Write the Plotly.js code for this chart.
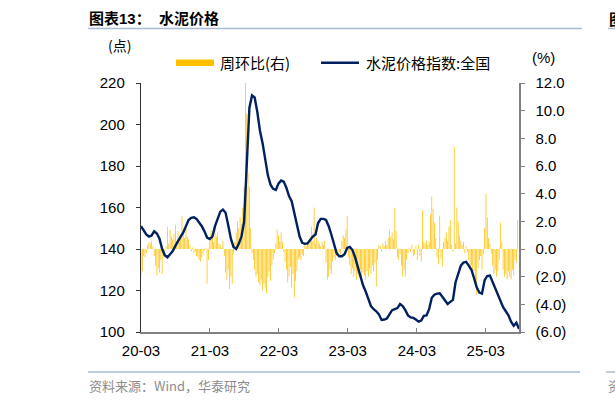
<!DOCTYPE html>
<html>
<head>
<meta charset="utf-8">
<script src="https://cdn.plot.ly/plotly-3.0.1.min.js"></script>
<style>
  body { margin: 0; background: #fff; }
  #cement_graph { width: 615px; height: 402px; }
</style>
</head>
<body>
<div id="cement_graph"></div>
<script>
// weekly data, first week starts 2020-03
const startDate = "2020-03-01";
const endDate = "2025-08-24";

// 周环比 (%), one value per week
const wowChange = [
  -2.0, -1.6, -0.5, -0.6, -0.3, 0.3, 0.5, 0.4, 0.6, 0.2,
  -0.5, -1.2, -1.9, -1.4, -1.7, -0.8, -1.8, -0.6, -0.3, 0.2,
  1.6, 0.4, 1.4, 0.9, 0.7, 1.1, 1.75, 0.6, 1.3, 0.5,
  0.9, 2.4, 1.5, 0.8, 1.6, 0.9, 0.7, 0.3, -0.2, 0.1,
  -0.3, -0.2, -0.5, -0.6, -0.8, -0.9, -0.6, -0.4, -0.1, 0.1,
  -2.5, -0.8, 0.6, 1.4, 1.1, 0.5, 1.6, 0.9, 1.2, 0.4,
  0.3, 0.1, 0.6, -0.5, -1.7, -2.2, -1.5, -2.9, -2.0, -2.5,
  -0.3, 0.5, 1.2, 2.0, 1.5, 2.3, 1.8, 3.0, 4.5, 12.0,
  9.8, 5.5, 4.5, 1.5, -0.3, -0.8, -1.5, -2.0, -1.8, -2.4,
  -2.6, -2.2, -3.0, -2.5, -2.8, -3.2, -2.0, -1.6, -2.3, -1.2,
  -0.8, -0.3, 0.4, 1.4, 1.0, 0.6, 1.2, 0.5, -0.2, -0.9,
  -1.5, -2.4, -2.0, -1.3, -2.8, -1.8, -3.5, -2.3, -1.6, -0.8,
  -0.6, -0.8, -0.4, -0.5, 0.3, 0.2, 0.5, 0.4, 0.9, 1.6,
  0.6, 3.0, 0.4, 0.8, 0.6, 0.4, 0.2, 0.5, 0.3, 0.6,
  -1.0, -2.2, -2.0, -1.5, -1.8, -0.9, -0.6, -0.8, -0.5, -0.3,
  -0.2, -0.4, 0.6, 1.0, 0.8, 1.4, 2.4, -0.6, -1.2, -1.8,
  -1.4, -2.0, -1.6, -2.2, -1.8, -2.0, -1.5, -2.1, -1.7, -1.9,
  -2.2, -1.6, -2.0, -1.4, -1.8, -1.2, -1.6, -1.0, -2.7, -0.8,
  0.3, 0.2, -0.2, 0.4, 0.2, 0.6, 0.3, 0.8, 1.4, 0.9,
  1.2, 0.7, 3.0, 1.3, -0.6, -0.8, -0.4, -1.2, -2.0, -1.5,
  -2.0, -0.8, -0.3, 0.1, -0.2, 0.3, -0.5, -0.4, 0.2, -0.8,
  0.3, -0.5, -0.9, 2.8, 0.5, 0.4, 0.6, 0.3, 0.5, 2.5,
  3.8, 2.9, 1.9, 0.8, -0.6, -1.1, 2.4, -0.7, -1.25, 0.5,
  0.8, 1.2, 0.6, 1.6, 2.1, 0.3, -0.2, 7.4, 0.4, 3.0,
  2.0, 1.0, 0.6, 0.3, 0.5, -0.3, 0.2, -0.2, -0.8, -1.5,
  -1.2, -2.0, -1.6, -2.3, -3.3, -1.4, -0.8, -0.5, -1.5, -0.4,
  1.5, 4.0, 2.3, 0.8, 0.4, -0.3, -1.2, -1.8, -1.5, -2.0,
  -1.6, -0.8, 1.9, 0.5, -1.5, -2.0, -1.8, -2.2, -1.6, -2.0,
  -2.2, -1.5, -1.9, -0.8, -1.0, 2.1
];

// 水泥价格指数:全国 (点), read every two weeks
const priceIndex = [
  151, 149, 147, 146, 146.5, 148.5, 147.5, 145, 140, 137,
  136, 137.5, 139, 141.5, 144, 146, 148, 151, 154, 155,
  155.3, 154.5, 153, 151, 148.5, 145.5, 144.8, 146, 151, 155,
  158, 159, 157.5, 151.5, 145, 141, 140, 142.5, 146, 153,
  181, 208, 214, 213, 206, 197, 191, 184, 175.5, 171,
  169, 168.5, 171.5, 173, 172.5, 169.5, 165.5, 163, 157, 151.5,
  146, 143, 142.5, 142.7, 144.5, 146, 147, 152.5, 154.5, 154.5,
  154, 151, 147, 142, 138, 136.5, 136.5, 137.5, 140.5, 141,
  139.5, 136, 131.5, 127, 122.5, 119.5, 116, 112.5, 111, 110,
  108.5, 105.8, 106, 106.5, 108.5, 110.5, 111, 111.5, 113.5, 112.5,
  110.5, 108, 107, 106.8, 106, 105, 105.5, 107.8, 108, 111,
  116.5, 118, 118.5, 118.7, 117, 115.5, 113.5, 114.5, 115.5, 124,
  128.5, 132, 133.5, 133.8, 132, 130, 126, 121.5, 119, 118.5,
  125, 127, 127.2, 124, 121.5, 117.5, 114.5, 112, 110, 108,
  105, 103, 104.5, 101.5
];

const xTickVals = ["2020-03-01", "2021-03-01", "2022-03-01", "2023-03-01", "2024-03-01", "2025-03-01"];
const xTickText = ["20-03", "21-03", "22-03", "23-03", "24-03", "25-03"];
const leftTicks = [100, 120, 140, 160, 180, 200, 220];
const rightTicks = [-6, -4, -2, 0, 2, 4, 6, 8, 10, 12];
const rightTickText = ["(6.0)", "(4.0)", "(2.0)", "0.0", "2.0", "4.0", "6.0", "8.0", "10.0", "12.0"];

const DAY = 86400000;
function datesEvery(n, days) {
  const t0 = Date.parse(startDate + "T00:00:00Z");
  const out = [];
  for (let i = 0; i < n; i++) {
    out.push(new Date(t0 + i * days * DAY).toISOString().slice(0, 10));
  }
  return out;
}

const fontLatin = 'Liberation Sans, Arial, "Noto Sans CJK SC", sans-serif';
const fontCJK = '"Noto Sans CJK SC", "Liberation Sans", sans-serif';

// plot area in pixels, used for the hand-made legend and page furniture
const L = 141, R = 519, T = 83, B = 332;
const px = (x) => (x - L) / (R - L);
const py = (y) => (B - y) / (B - T);

const wowBars = {
  x: datesEvery(wowChange.length, 7),
  y: wowChange,
  type: "bar",
  width: 4 * DAY,
  marker: { color: "#FFC000", line: { width: 0 } },
  yaxis: "y",
  name: "周环比(右)",
  hoverinfo: "skip",
};

const priceLine = {
  x: datesEvery(priceIndex.length, 14),
  y: priceIndex,
  type: "scatter",
  mode: "lines",
  line: { color: "#002060", width: 2.4 },
  yaxis: "y2",
  name: "水泥价格指数:全国",
  hoverinfo: "skip",
};

const layout = {
  width: 615,
  height: 402,
  margin: { l: L, r: 615 - R, t: T, b: 402 - B },
  paper_bgcolor: "#ffffff",
  plot_bgcolor: "#ffffff",
  showlegend: false,
  font: { family: fontLatin, size: 15, color: "#000" },
  xaxis: {
    type: "date",
    range: [startDate, endDate],
    tickvals: xTickVals,
    ticktext: xTickText,
    ticks: "inside",
    ticklen: 4,
    tickcolor: "#808080",
    showline: true,
    linecolor: "#808080",
    linewidth: 1.5,
    showgrid: false,
    zeroline: false,
    ticklabelstandoff: 4,
    tickfont: { size: 15, color: "#000" },
  },
  // bars: right-hand scale
  yaxis: {
    side: "right",
    range: [-6, 12],
    tickvals: rightTicks,
    ticktext: rightTickText,
    ticks: "outside",
    ticklen: 4,
    tickcolor: "#808080",
    showline: true,
    linecolor: "#808080",
    linewidth: 1.5,
    showgrid: false,
    zeroline: false,
    ticklabelstandoff: 8,
    tickfont: { size: 15, color: "#000" },
  },
  // index line: left-hand scale, drawn above the bars
  yaxis2: {
    overlaying: "y",
    side: "left",
    range: [100, 220],
    tickvals: leftTicks,
    ticks: "outside",
    ticklen: 4,
    tickcolor: "#333",
    showline: true,
    linecolor: "#333",
    linewidth: 1.2,
    showgrid: false,
    zeroline: false,
    ticklabelstandoff: 8,
    tickfont: { size: 15, color: "#000" },
  },
  shapes: [
    // rules under title and above source
    { type: "line", xref: "paper", yref: "paper", x0: px(88), x1: px(582), y0: py(28.5), y1: py(28.5), line: { color: "#A9BCD5", width: 1.5 } },
    { type: "line", xref: "paper", yref: "paper", x0: px(88), x1: px(580), y0: py(372), y1: py(372), line: { color: "#A9BCD5", width: 1.5 } },
    { type: "line", xref: "paper", yref: "paper", x0: px(608), x1: px(616), y0: py(28.5), y1: py(28.5), line: { color: "#A9BCD5", width: 1.5 } },
    { type: "line", xref: "paper", yref: "paper", x0: px(606), x1: px(616), y0: py(372), y1: py(372), line: { color: "#A9BCD5", width: 1.5 } },
    // legend swatches
    { type: "rect", xref: "paper", yref: "paper", x0: px(176), x1: px(214), y0: py(66), y1: py(59.5), fillcolor: "#FFC000", line: { width: 0 } },
    { type: "line", xref: "paper", yref: "paper", x0: px(321), x1: px(359), y0: py(62.7), y1: py(62.7), line: { color: "#002060", width: 2.4 } },
  ],
  annotations: [
    { text: "<b>图表13：  水泥价格</b>", xref: "paper", yref: "paper", x: px(87), y: py(18), xanchor: "left", yanchor: "middle", showarrow: false, font: { family: fontLatin, size: 15, color: "#000" } },
    { text: "<b>图</b>", xref: "paper", yref: "paper", x: px(607), y: py(18), xanchor: "left", yanchor: "middle", showarrow: false, font: { family: fontCJK, size: 15, color: "#000" } },
    { text: "(点)", xref: "paper", yref: "paper", x: px(119), y: py(45), xanchor: "center", yanchor: "middle", showarrow: false, font: { family: fontCJK, size: 14, color: "#000" } },
    { text: "(%)", xref: "paper", yref: "paper", x: px(543), y: py(57), xanchor: "center", yanchor: "middle", showarrow: false, font: { family: fontLatin, size: 15, color: "#000" } },
    { text: "周环比(右)", xref: "paper", yref: "paper", x: px(218), y: py(63), xanchor: "left", yanchor: "middle", showarrow: false, font: { family: fontCJK, size: 15, color: "#000" } },
    { text: "水泥价格指数:全国", xref: "paper", yref: "paper", x: px(364), y: py(63), xanchor: "left", yanchor: "middle", showarrow: false, font: { family: fontCJK, size: 15, color: "#000" } },
    { text: "资料来源：Wind，华泰研究", xref: "paper", yref: "paper", x: px(87), y: py(385), xanchor: "left", yanchor: "middle", showarrow: false, font: { family: fontCJK, size: 13, color: "#8c8c8c" } },
    { text: "资", xref: "paper", yref: "paper", x: px(606), y: py(385), xanchor: "left", yanchor: "middle", showarrow: false, font: { family: fontCJK, size: 13, color: "#8c8c8c" } },
  ],
};

const config = { responsive: false, displayModeBar: false, staticPlot: true };

Plotly.newPlot("cement_graph", [wowBars, priceLine], layout, config);
</script>
</body>
</html>
